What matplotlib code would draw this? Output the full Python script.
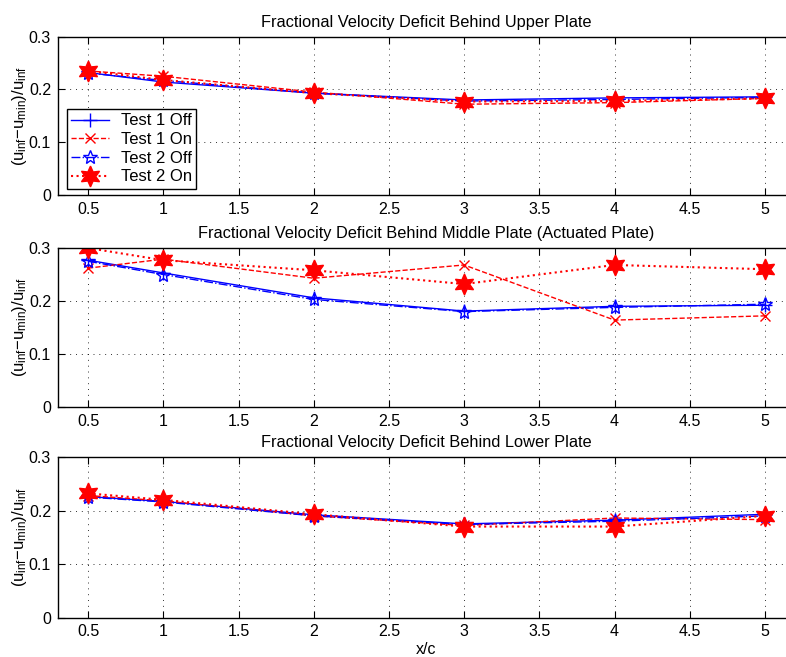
import matplotlib
matplotlib.use('Agg')
import matplotlib.pyplot as plt

plt.rcParams['font.family'] = ['Liberation Sans', 'DejaVu Sans']
plt.rcParams['mathtext.default'] = 'regular'

x = [0.5, 1, 2, 3, 4, 5]

# upper plate
upper_t1_off = [0.232, 0.214, 0.193, 0.180, 0.184, 0.186]
upper_t1_on = [0.235, 0.225, 0.195, 0.172, 0.175, 0.183]
upper_t2_off = [0.231, 0.217, 0.193, 0.178, 0.181, 0.185]
upper_t2_on = [0.235, 0.218, 0.193, 0.177, 0.178, 0.183]

# middle plate (actuated)
middle_t1_off = [0.277, 0.253, 0.206, 0.181, 0.190, 0.192]
middle_t1_on = [0.262, 0.279, 0.243, 0.268, 0.164, 0.172]
middle_t2_off = [0.275, 0.250, 0.203, 0.180, 0.188, 0.194]
middle_t2_on = [0.300, 0.277, 0.258, 0.232, 0.268, 0.260]

# lower plate
lower_t1_off = [0.226, 0.217, 0.192, 0.175, 0.182, 0.193]
lower_t1_on = [0.228, 0.218, 0.190, 0.172, 0.186, 0.183]
lower_t2_off = [0.225, 0.216, 0.190, 0.174, 0.180, 0.190]
lower_t2_on = [0.232, 0.220, 0.193, 0.170, 0.170, 0.190]

titles = ['Fractional Velocity Deficit Behind Upper Plate',
          'Fractional Velocity Deficit Behind Middle Plate (Actuated Plate)',
          'Fractional Velocity Deficit Behind Lower Plate']
labels = ['Test 1 Off', 'Test 1 On', 'Test 2 Off', 'Test 2 On']
xticks = [0.5, 1, 1.5, 2, 2.5, 3, 3.5, 4, 4.5, 5]
yticks = [0, 0.1, 0.2, 0.3]

data = [
    (upper_t1_off, upper_t1_on, upper_t2_off, upper_t2_on),
    (middle_t1_off, middle_t1_on, middle_t2_off, middle_t2_on),
    (lower_t1_off, lower_t1_on, lower_t2_off, lower_t2_on),
]

fs = 11.5
fig = plt.figure(figsize=(7.86, 6.57), dpi=100)
positions = [
    [0.0738, 0.7032, 0.9377, 0.2410],
    [0.0738, 0.3805, 0.9377, 0.2420],
    [0.0738, 0.0601, 0.9377, 0.2443],
]

for i, (pos, series) in enumerate(zip(positions, data)):
    ax = fig.add_axes(pos)
    t1off, t1on, t2off, t2on = series
    ax.plot(x, t1off, color='b', ls='-', lw=1, marker='+', ms=10, mew=1, label=labels[0])
    ax.plot(x, t1on, color='r', ls='--', lw=1, marker='x', ms=7, mew=1, label=labels[1])
    ax.plot(x, t2off, color='b', ls='-.', lw=1, marker='*', ms=10, mew=1,
            mfc='none', label=labels[2])
    ax.plot(x, t2on, color='r', ls=':', lw=1.5, marker=(6, 1, 0), ms=15,
            mfc='r', mec='r', label=labels[3])
    ax.set_xlim(0.3, 5.2)
    ax.set_ylim(0, 0.3)
    ax.set_xticks(xticks)
    ax.set_xticklabels([f'{v:g}' for v in xticks])
    ax.set_yticks(yticks)
    ax.set_yticklabels([f'{v:g}' for v in yticks])
    ax.tick_params(direction='in', top=True, right=True, labelsize=fs, length=5, pad=5)
    ax.grid(True, ls=(0, (1, 5)), color='k', lw=0.7, alpha=0.8)
    ax.set_title(titles[i], fontsize=fs + 0.3, pad=7)
    ax.set_ylabel('(u$_{inf}$−u$_{min}$)/u$_{inf}$', fontsize=fs + 0.5, labelpad=0)
    for s in ax.spines.values():
        s.set_linewidth(1)
    if i == 0:
        leg = ax.legend(loc='lower left', bbox_to_anchor=(0.012, 0.04), fontsize=12,
                        fancybox=False, edgecolor='k', framealpha=1,
                        handlelength=2.3, borderpad=0.25, labelspacing=0.22,
                        handletextpad=0.7, borderaxespad=0)
        leg.get_frame().set_linewidth(1)
    if i == 2:
        ax.set_xlabel('x/c', fontsize=fs, labelpad=2)

fig.savefig('out.png', dpi=100)
